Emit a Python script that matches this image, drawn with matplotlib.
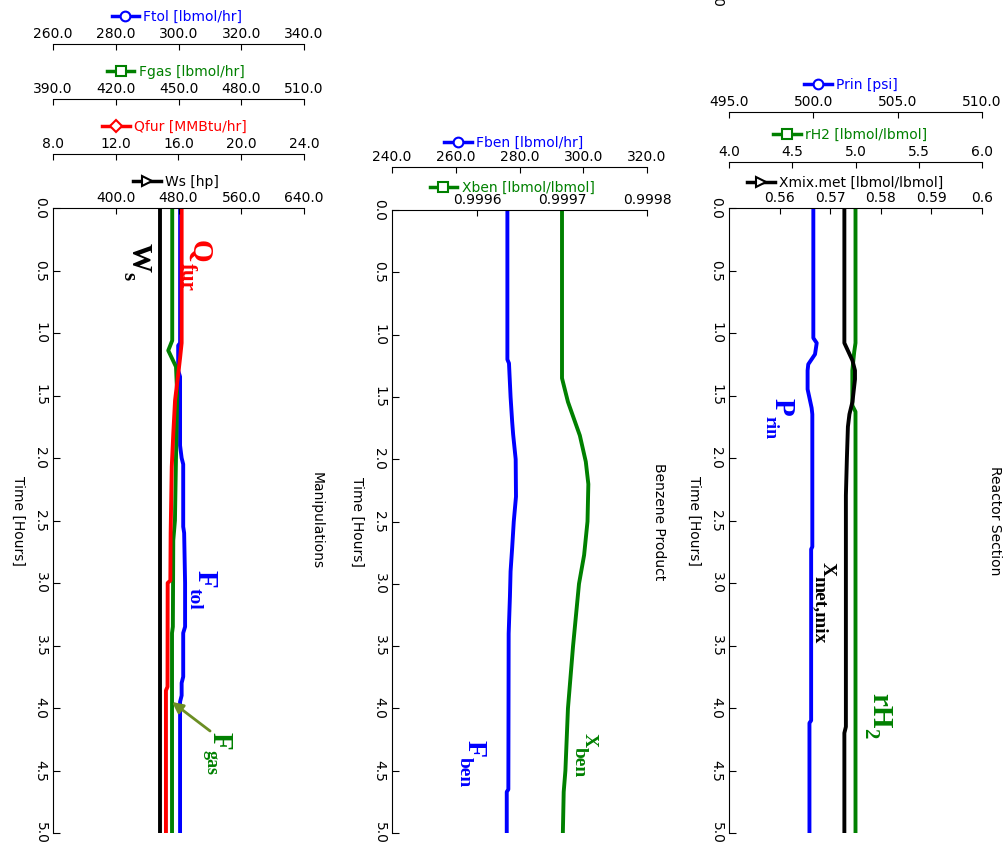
import matplotlib
matplotlib.use("Agg")
import matplotlib.pyplot as plt
from matplotlib.lines import Line2D

plt.rcParams['font.family'] = ['DejaVu Sans']
plt.rcParams['font.size'] = 10

DPI = 100
W, H = 1008, 861

# ---------------- data ----------------
time_ticks = [0.0, 0.5, 1.0, 1.5, 2.0, 2.5, 3.0, 3.5, 4.0, 4.5, 5.0]

# Panel 1 : Manipulations
t_ws = [0.0, 1.0, 2.0, 3.0, 4.0, 5.0]
ws = [456.0, 456.0, 456.0, 456.0, 456.0, 456.0]

t_qfur = [0.0, 1.08, 1.2, 1.32, 1.54, 1.8, 2.07, 2.6, 2.98, 3.0, 3.83, 3.86, 5.0]
qfur = [16.2, 16.2, 16.1, 15.99, 15.78, 15.67, 15.57, 15.5, 15.48, 15.31, 15.3, 15.2, 15.2]

t_fgas = [0.0, 1.06, 1.14, 1.27, 1.5, 2.0, 2.5, 2.66, 3.35, 3.4, 5.0]
fgas = [447.0, 447.0, 445.1, 448.8, 449.4, 448.8, 448.3, 447.5, 447.3, 446.9, 446.9]

t_ftol = [0.0, 1.08, 1.1, 1.3, 1.35, 1.9, 2.0, 2.05, 2.55, 2.6, 3.0, 3.35, 3.4, 3.75, 3.8, 3.9, 3.95, 5.0]
ftol = [300.5, 300.5, 299.9, 299.9, 300.5, 300.5, 301.0, 301.5, 301.5, 301.8, 302.1, 302.1,
        301.5, 301.5, 301.0, 301.0, 300.5, 300.5]

# Panel 2 : Benzene Product
t_xben = [0.0, 1.35, 1.54, 1.81, 2.02, 2.2, 2.5, 2.77, 3.0, 3.5, 4.0, 4.5, 4.67, 5.0]
xben = [0.999700, 0.999700, 0.999707, 0.999721, 0.999728, 0.999731, 0.999730, 0.999726,
        0.999720, 0.999713, 0.999707, 0.999704, 0.999702, 0.999701]

t_fben = [0.0, 1.2, 1.23, 1.5, 1.7, 1.8, 2.0, 2.3, 2.5, 2.71, 2.9, 3.1, 3.4, 4.65, 4.67, 5.0]
fben = [276.2, 276.2, 276.7, 277.2, 277.7, 278.0, 278.8, 278.9, 278.2, 277.7, 277.2, 277.0,
        276.6, 276.5, 276.0, 276.0]

# Panel 3 : Reactor Section
t_xmix = [0.0, 1.08, 1.15, 1.22, 1.3, 1.37, 1.55, 1.65, 1.75, 2.0, 2.3, 4.15, 4.2, 5.0]
xmix = [0.5728, 0.5728, 0.5736, 0.5744, 0.5749, 0.5749, 0.5744, 0.5738, 0.5735, 0.5733,
        0.5731, 0.5731, 0.5728, 0.5728]

t_rh2 = [0.0, 1.08, 1.15, 1.3, 1.58, 1.63, 5.0]
rh2 = [5.0, 5.0, 4.99, 4.975, 4.975, 5.0, 5.0]

t_prin = [0.0, 1.04, 1.08, 1.17, 1.25, 1.3, 1.45, 1.6, 1.65, 2.71, 2.73, 4.1, 4.12, 5.0]
prin = [500.0, 500.0, 500.2, 500.1, 499.7, 499.66, 499.66, 499.9, 499.94, 499.94, 499.87,
        499.87, 499.77, 499.77]

# axis scales and tick labels
ws_lim, ws_ticks = (320, 640), [400, 480, 560, 640]
qfur_lim, qfur_ticks = (8, 24), [8, 12, 16, 20, 24]
fgas_lim, fgas_ticks = (390, 510), [390, 420, 450, 480, 510]
ftol_lim, ftol_ticks = (260, 340), [260, 280, 300, 320, 340]
xben_lim, xben_ticks = (0.9995, 0.9998), [0.9996, 0.9997, 0.9998]
fben_lim, fben_ticks = (240, 320), [240, 260, 280, 300, 320]
xmix_lim, xmix_ticks = (0.55, 0.60), [0.56, 0.57, 0.58, 0.59, 0.60]
xmix_labels = ['0.56', '0.57', '0.58', '0.59', '0.6']
rh2_lim, rh2_ticks = (4.0, 6.0), [4.0, 4.5, 5.0, 5.5, 6.0]
prin_lim, prin_ticks = (495, 510), [495, 500, 505, 510]

BLUE, RED, GREEN, BLACK = '#0000FF', '#FF0000', '#008000', '#000000'
LW = 2.8

fig = plt.figure(figsize=(W / DPI, H / DPI), dpi=DPI)
fig.patch.set_facecolor('white')
renderer = fig.canvas.get_renderer()


def px2fig(x, y):
    return x / W, 1 - y / H


def make_main(left, right, top, bottom):
    ax = fig.add_axes([left / W, 1 - bottom / H, (right - left) / W, (bottom - top) / H])
    ax.set_ylim(5, 0)
    return ax


def finish_main(ax, lim, ticks, labels):
    ax.set_xlim(*lim)
    ax.xaxis.tick_top()
    ax.set_xticks(ticks)
    ax.set_xticklabels(labels)
    ax.spines['right'].set_visible(False)
    ax.spines['bottom'].set_visible(False)
    ax.set_yticks(time_ticks)
    ax.set_yticklabels(['%.1f' % t for t in time_ticks], rotation=-90, va='center')
    ax.tick_params(axis='y', direction='in', length=5, pad=4, left=True, right=False,
                   labelsize=10)
    ax.tick_params(axis='x', direction='in', length=4.5, pad=2, top=True, bottom=False,
                   labeltop=True, labelbottom=False, labelsize=10)
    ax.patch.set_visible(False)
    ax.set_zorder(3)


def make_twin(ax, offset_px, lim, ticks, labels):
    tw = ax.twiny()
    for s in ['left', 'right', 'bottom']:
        tw.spines[s].set_visible(False)
    tw.spines['top'].set_position(('outward', offset_px * 72 / DPI))
    tw.set_xlim(*lim)
    tw.set_xticks(ticks)
    tw.set_xticklabels(labels)
    tw.tick_params(axis='x', direction='in', length=4.5, pad=2, top=True, bottom=False,
                   labeltop=True, labelbottom=False, labelsize=10)
    return tw


def axis_legend(cx, cy, text, color, marker, ms):
    h = Line2D([], [], color=color, lw=2.5, marker=marker, ms=ms, mfc='white', mec=color,
               mew=1.5)
    fig.legend([h], [text], loc='center', bbox_to_anchor=px2fig(cx, cy), frameon=False,
               fontsize=10, handlelength=2.0, handletextpad=0.3, labelcolor=color,
               borderpad=0, borderaxespad=0, numpoints=1)


def sublabel(ax, x, y, main, sub, color, ms, ss, drop_px):
    kw = dict(xycoords='data', textcoords='offset points', rotation=-90,
              rotation_mode='anchor', ha='left', va='baseline', color=color,
              family='Liberation Serif', weight='bold', annotation_clip=False, zorder=5)
    t1 = ax.annotate(main, (x, y), xytext=(0, 0), fontsize=ms, **kw)
    bb = t1.get_window_extent(renderer)
    L = bb.height * 72 / DPI
    ax.annotate(sub, (x, y), xytext=(-drop_px * 72 / DPI, -L), fontsize=ss, **kw)


fmt1 = lambda v: ['%.1f' % t for t in v]

# ---------------- Panel 1 ----------------
ax1 = make_main(53, 304, 208, 833)
tw_ftol = make_twin(ax1, 164.5, ftol_lim, ftol_ticks, fmt1(ftol_ticks))
tw_fgas = make_twin(ax1, 109, fgas_lim, fgas_ticks, fmt1(fgas_ticks))
tw_qfur = make_twin(ax1, 54, qfur_lim, qfur_ticks, fmt1(qfur_ticks))
finish_main(ax1, ws_lim, ws_ticks, fmt1(ws_ticks))
ax1.plot(ws, t_ws, color=BLACK, lw=LW)
tw_ftol.plot(ftol, t_ftol, color=BLUE, lw=LW)
tw_fgas.plot(fgas, t_fgas, color=GREEN, lw=LW)
tw_qfur.plot(qfur, t_qfur, color=RED, lw=LW)

axis_legend(177, 17, 'Ftol [lbmol/hr]', BLUE, 'o', 7)
axis_legend(175.5, 72, 'Fgas [lbmol/hr]', GREEN, 's', 7)
axis_legend(174.5, 127, 'Qfur [MMBtu/hr]', RED, 'D', 6)
axis_legend(176, 182, 'Ws [hp]', BLACK, '>', 7)

sublabel(ax1, 420.7, 0.28, 'W', 's', BLACK, 21, 15, 9)
sublabel(ax1, 497.2, 0.256, 'Q', 'fur', RED, 21, 15, 10)
sublabel(ax1, 504.9, 2.896, 'F', 'tol', BLUE, 21, 14, 8)
sublabel(ax1, 524.0, 4.192, 'F', 'gas', GREEN, 21, 13, 7)
tw_fgas.annotate('', xy=(446.9, 3.952), xytext=(465.1, 4.184), xycoords='data',
                 arrowprops=dict(arrowstyle='-|>', color='#6B8E23', lw=2,
                                 mutation_scale=16, shrinkA=0, shrinkB=0))
ax1.text(1.052, 0.5, 'Manipulations', transform=ax1.transAxes, rotation=-90,
         ha='center', va='center', fontsize=10)
ax1.text(-0.139, 0.5, 'Time [Hours]', transform=ax1.transAxes, rotation=-90,
         ha='center', va='center', fontsize=10)

# ---------------- Panel 2 ----------------
ax2 = make_main(392, 647, 210, 833)
tw_fben = make_twin(ax2, 43, fben_lim, fben_ticks, fmt1(fben_ticks))
finish_main(ax2, xben_lim, xben_ticks, ['%.4f' % t for t in xben_ticks])
ax2.plot(xben, t_xben, color=GREEN, lw=LW)
tw_fben.plot(fben, t_fben, color=BLUE, lw=LW)

axis_legend(514, 143, 'Fben [lbmol/hr]', BLUE, 'o', 7)
axis_legend(512, 188, 'Xben [lbmol/lbmol]', GREEN, 's', 7)

sublabel(ax2, 0.999589, 4.254, 'F', 'ben', BLUE, 20, 14, 8)
sublabel(ax2, 0.999727, 4.197, 'X', 'ben', GREEN, 14, 14, 10)
ax2.text(1.047, 0.5, 'Benzene Product', transform=ax2.transAxes, rotation=-90,
         ha='center', va='center', fontsize=10)
ax2.text(-0.137, 0.5, 'Time [Hours]', transform=ax2.transAxes, rotation=-90,
         ha='center', va='center', fontsize=10)

# ---------------- Panel 3 ----------------
ax3 = make_main(729, 982, 208, 833)
tw_prin = make_twin(ax3, 96.3, prin_lim, prin_ticks, fmt1(prin_ticks))
tw_rh2 = make_twin(ax3, 46.3, rh2_lim, rh2_ticks, fmt1(rh2_ticks))
finish_main(ax3, xmix_lim, xmix_ticks, xmix_labels)
ax3.plot(xmix, t_xmix, color=BLACK, lw=LW)
tw_rh2.plot(rh2, t_rh2, color=GREEN, lw=LW)
tw_prin.plot(prin, t_prin, color=BLUE, lw=LW)

axis_legend(851, 85, 'Prin [psi]', BLUE, 'o', 7)
axis_legend(850, 135, 'rH2 [lbmol/lbmol]', GREEN, 's', 7)
axis_legend(845, 183, 'Xmix.met [lbmol/lbmol]', BLACK, '>', 7)

sublabel(ax3, 0.55909, 1.52, 'P', 'rin', BLUE, 21, 13, 9)
sublabel(ax3, 0.56858, 2.832, 'X', 'met,mix', BLACK, 14, 14, 8)
sublabel(ax3, 0.57826, 3.88, 'rH', '2', GREEN, 21, 15, 8)
ax3.text(1.051, 0.5, 'Reactor Section', transform=ax3.transAxes, rotation=-90,
         ha='center', va='center', fontsize=10)
ax3.text(-0.138, 0.5, 'Time [Hours]', transform=ax3.transAxes, rotation=-90,
         ha='center', va='center', fontsize=10)

# clipped leftover tick label at the very top
fx, fy = px2fig(717, 7)
fig.text(fx, fy, '0.0', rotation=-90, ha='center', va='bottom', fontsize=10)

fig.savefig('out.png', dpi=DPI, facecolor='white')
